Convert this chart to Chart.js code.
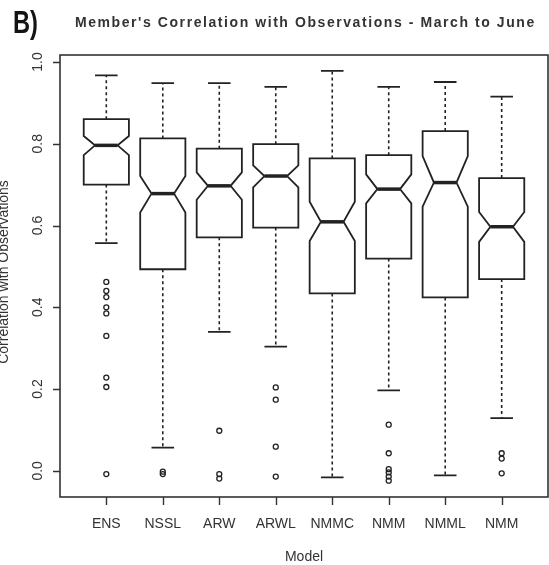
<!DOCTYPE html>
<html>
<head>
<meta charset="utf-8">
<script src="https://cdn.jsdelivr.net/npm/chart.js@4.4.1/dist/chart.umd.min.js"></script>
<style>
  html, body { margin: 0; padding: 0; background: #fff; overflow: hidden; }
  canvas { display: block; }
</style>
</head>
<body>
<canvas id="chart" width="549" height="565"></canvas>
<script>
// ==============================
// data
// ==============================
const models = ["ENS", "NSSL", "ARW", "ARWL", "NMMC", "NMM", "NMML", "NMM"];
const whiskerLow  = [0.557, 0.057, 0.340, 0.304, -0.016, 0.197, -0.011, 0.129];
const q1          = [0.700, 0.493, 0.571, 0.595, 0.434, 0.519, 0.424, 0.469];
const notchLow    = [0.772, 0.632, 0.663, 0.693, 0.562, 0.654, 0.646, 0.560];
const median      = [0.796, 0.678, 0.697, 0.721, 0.609, 0.689, 0.705, 0.597];
const notchHigh   = [0.819, 0.721, 0.730, 0.747, 0.658, 0.725, 0.770, 0.633];
const q3          = [0.860, 0.813, 0.788, 0.799, 0.764, 0.772, 0.831, 0.716];
const whiskerHigh = [0.967, 0.948, 0.948, 0.939, 0.978, 0.939, 0.951, 0.915];
const outliers = [
  [0.462, 0.440, 0.425, 0.400, 0.385, 0.330, 0.228, 0.205, -0.008],
  [-0.002, -0.008],
  [0.098, -0.008, -0.019],
  [0.204, 0.174, 0.059, -0.014],
  [],
  [0.113, 0.043, 0.004, -0.004, -0.014, -0.024],
  [],
  [0.043, 0.030, -0.006],
];
const yTicks = [0.0, 0.2, 0.4, 0.6, 0.8, 1.0];

const titleText = "Member's Correlation with Observations - March to June";
const xTitle = "Model";
const yTitle = "Correlation with Observations";

// outlier points for the scatter dataset
const outlierPoints = [];
outliers.forEach((vals, i) => {
  vals.forEach((v) => outlierPoints.push({ x: i + 1, y: v }));
});

const INK = "#222";
const TEXT = "#333";
const FONT = "'Liberation Sans', Arial, sans-serif";

// ==============================
// notched boxes
// ==============================
const boxPlugin = {
  id: "notchedBoxes",

  beforeDatasetsDraw(chart) {
    const ctx = chart.ctx;
    const xs = chart.scales.x;
    const ys = chart.scales.y;
    const half = 0.4;   // boxwex 0.8
    const notch = 0.2;  // notch half width
    const cap = 0.2;    // staple half width

    ctx.save();
    models.forEach((m, i) => {
      const c = i + 1;
      const X = (d) => xs.getPixelForValue(c + d);
      const Y = (v) => ys.getPixelForValue(v);

      // whiskers
      ctx.strokeStyle = INK;
      ctx.lineWidth = 1.6;
      ctx.setLineDash([3, 3]);
      ctx.beginPath();
      ctx.moveTo(X(0), Y(q3[i]));
      ctx.lineTo(X(0), Y(whiskerHigh[i]));
      ctx.moveTo(X(0), Y(q1[i]));
      ctx.lineTo(X(0), Y(whiskerLow[i]));
      ctx.stroke();
      ctx.setLineDash([]);

      // staples
      ctx.lineWidth = 1.8;
      ctx.beginPath();
      ctx.moveTo(X(-cap), Y(whiskerHigh[i]));
      ctx.lineTo(X(cap), Y(whiskerHigh[i]));
      ctx.moveTo(X(-cap), Y(whiskerLow[i]));
      ctx.lineTo(X(cap), Y(whiskerLow[i]));
      ctx.stroke();

      // box
      ctx.beginPath();
      ctx.moveTo(X(-half), Y(q1[i]));
      ctx.lineTo(X(-half), Y(notchLow[i]));
      ctx.lineTo(X(-notch), Y(median[i]));
      ctx.lineTo(X(-half), Y(notchHigh[i]));
      ctx.lineTo(X(-half), Y(q3[i]));
      ctx.lineTo(X(half), Y(q3[i]));
      ctx.lineTo(X(half), Y(notchHigh[i]));
      ctx.lineTo(X(notch), Y(median[i]));
      ctx.lineTo(X(half), Y(notchLow[i]));
      ctx.lineTo(X(half), Y(q1[i]));
      ctx.closePath();
      ctx.fillStyle = "#fff";
      ctx.fill();
      ctx.lineWidth = 1.8;
      ctx.stroke();

      // median
      ctx.lineWidth = 3.5;
      ctx.beginPath();
      ctx.moveTo(X(-notch), Y(median[i]));
      ctx.lineTo(X(notch), Y(median[i]));
      ctx.stroke();
    });
    ctx.restore();
  },

  // -------------------------
  // frame, axes, texts
  // -------------------------
  afterDraw(chart) {
    const ctx = chart.ctx;
    const xs = chart.scales.x;
    const ys = chart.scales.y;
    const { left, right, top, bottom } = chart.chartArea;

    ctx.save();
    ctx.strokeStyle = "#333";
    ctx.lineWidth = 1.6;
    ctx.strokeRect(left, top, right - left, bottom - top);

    // y ticks
    ctx.lineWidth = 1.4;
    ctx.beginPath();
    yTicks.forEach((v) => {
      const y = Math.round(ys.getPixelForValue(v)) + 0.5;
      ctx.moveTo(left - 7, y);
      ctx.lineTo(left, y);
    });
    // x ticks
    models.forEach((m, i) => {
      const x = Math.round(xs.getPixelForValue(i + 1)) + 0.5;
      ctx.moveTo(x, bottom);
      ctx.lineTo(x, bottom + 8);
    });
    ctx.stroke();

    ctx.fillStyle = TEXT;
    ctx.font = `14px ${FONT}`;

    // y tick labels (rotated)
    yTicks.forEach((v) => {
      ctx.save();
      ctx.translate(42, ys.getPixelForValue(v));
      ctx.rotate(-Math.PI / 2);
      ctx.textAlign = "center";
      ctx.textBaseline = "alphabetic";
      ctx.fillText(v.toFixed(1), 0, 0);
      ctx.restore();
    });

    // x tick labels
    ctx.textAlign = "center";
    ctx.textBaseline = "alphabetic";
    models.forEach((m, i) => {
      ctx.fillText(m, xs.getPixelForValue(i + 1), 528);
    });

    // axis titles
    ctx.fillText(xTitle, (left + right) / 2, 561);
    ctx.save();
    ctx.translate(8, 272);
    ctx.rotate(-Math.PI / 2);
    ctx.fillText(yTitle, 0, 0);
    ctx.restore();

    // title, stretched to its width in the picture
    ctx.font = `bold 14px ${FONT}`;
    ctx.textAlign = "left";
    const w = ctx.measureText(titleText).width;
    ctx.letterSpacing = ((459 - w) / (titleText.length - 1)).toFixed(2) + "px";
    ctx.fillText(titleText, 75, 27);
    ctx.letterSpacing = "0px";

    // panel letter
    ctx.save();
    ctx.translate(13, 33);
    ctx.scale(0.74, 1);
    ctx.font = `bold 32px ${FONT}`;
    ctx.fillStyle = "#141414";
    ctx.fillText("B)", 0, 0);
    ctx.restore();

    ctx.restore();
  },
};

// ==============================
// create
// ==============================
const chart = new Chart(document.getElementById("chart"), {
  type: "scatter",
  data: {
    datasets: [
      {
        label: "Outliers",
        data: outlierPoints,
        pointStyle: "circle",
        pointRadius: 2.5,
        pointHoverRadius: 2.5,
        borderColor: INK,
        borderWidth: 1.3,
        backgroundColor: "rgba(255,255,255,0)",
        showLine: false,
      },
    ],
  },
  options: {
    responsive: false,
    maintainAspectRatio: false,
    animation: false,
    events: [],
    layout: {
      autoPadding: false,
      padding: { left: 60, right: 1, top: 55, bottom: 68 },
    },
    plugins: {
      legend: { display: false },
      tooltip: { enabled: false },
    },
    scales: {
      x: { type: "linear", display: false, min: 0.18, max: 8.82 },
      y: { type: "linear", display: false, min: -0.064, max: 1.017 },
    },
  },
  plugins: [boxPlugin],
});
</script>
</body>
</html>
